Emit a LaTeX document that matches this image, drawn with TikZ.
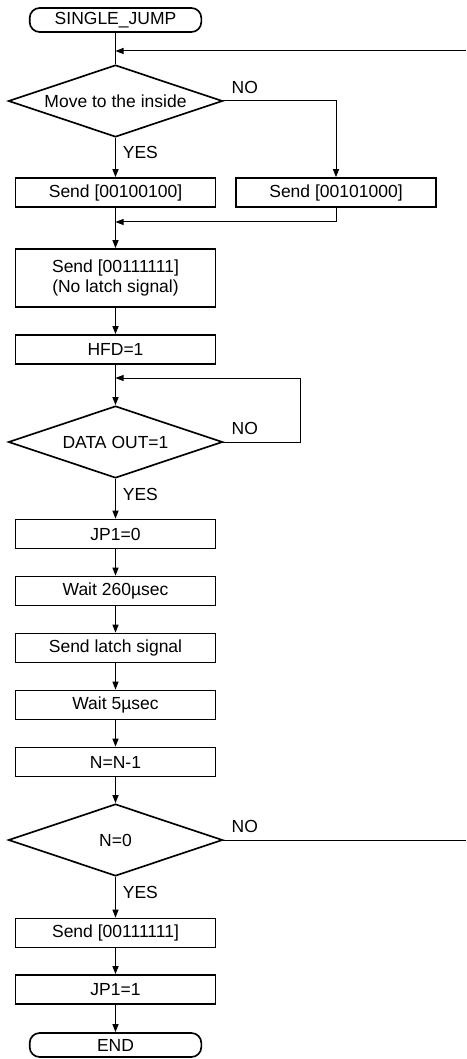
\documentclass[tikz,border=0pt]{standalone}
\usepackage{fontspec}
\setmainfont{Liberation Sans}
\usetikzlibrary{shapes.geometric}
\usetikzlibrary{positioning}
\usetikzlibrary{arrows.meta}

\begin{document}
\begin{tikzpicture}[x=0.6pt,y=-0.6pt,every path/.style={>={Triangle[length=4.8pt,width=3.6pt]}},
	font=\fontsize{10.5}{12}\selectfont,
	box/.style={rectangle,draw,line width=1pt,minimum width=120pt,minimum height=17.4pt,inner sep=0pt,align=center},
	term/.style={rectangle,rounded corners=6pt,draw,line width=1pt,minimum width=103pt,minimum height=14.4pt,inner sep=0pt},
	cond/.style={diamond,draw,line width=1pt,aspect=2.97,minimum width=128.4pt,minimum height=43.2pt,inner sep=0pt},
	lbl/.style={inner sep=0pt},
	line/.style={draw=black,line width=0.6pt}]
		\useasboundingbox (0,0) rectangle (466,1059);
		
		% start and first test
		\node[term] (start) at (115.5,20) {SINGLE\_JUMP};
		\node[cond] (move) at (115.5,101) {Move to the inside};
		\node[box] (inward) at (115.5,192.5) {Send [00100100]};
		\node[box] (outward) at (336,192.5) {Send [00101000]};
		\node[box,minimum height=34.8pt] (nolatch) at (115.5,278) {Send [00111111]\\(No latch signal)};
		\node[box] (hfd) at (115.5,349.5) {HFD=1};
		
		% wait for data out
		\node[cond] (data) at (115.5,442) {DATA OUT=1};
		
		% draw steps
		\foreach \t [count=\i] in {JP1=0,Wait 260µsec,Send latch signal,Wait 5µsec,N=N-1}
		{
			\node[box] (step-\i) at (115.5,477+57*\i) {\t};
		}
		
		% last test and stop
		\node[cond] (zero) at (115.5,840) {N=0};
		\node[box] (final) at (115.5,933) {Send [00111111]};
		\node[box] (jpone) at (115.5,989.5) {JP1=1};
		\node[term] (stop) at (115.5,1045) {END};
		
		% labels
		\node[lbl,above right=4.2pt and 4.8pt of move.east] (no1) {NO};
		\node[lbl,below right=4.8pt and 4.2pt of move.south] (yes1) {YES};
		\node[lbl,above right=4.2pt and 4.8pt of data.east] (no2) {NO};
		\node[lbl,below right=5.4pt and 4.2pt of data.south] (yes2) {YES};
		\node[lbl,above right=4.2pt and 4.8pt of zero.east] (no3) {NO};
		\node[lbl,below right=5.4pt and 4.2pt of zero.south] (yes3) {YES};
		
		% points on the lines
		\coordinate (ret) at (466,51);
		\coordinate (j1) at (115.5,51);
		\coordinate (j2) at (115.5,222);
		\coordinate (j3) at (115.5,378);
		\coordinate (back) at (300,442);
		\coordinate (away) at (466,840);
		
		% draw connectors
		\draw[line] (start) -- (move);
		\draw[line,->] (ret) -- (j1);
		\draw[line,->] (move) -- (inward);
		\draw[line,->] (move.east) -| (outward);
		\draw[line,->] (inward) -- (nolatch);
		\draw[line,->] (outward.south) |- (j2);
		\draw[line,->] (nolatch) -- (hfd);
		\draw[line,->] (hfd) -- (data);
		\draw[line,->] (data.east) -- (back) |- (j3);
		\path (data) edge[line,->] (step-1)
			(step-1) edge[line,->] (step-2)
			(step-2) edge[line,->] (step-3)
			(step-3) edge[line,->] (step-4)
			(step-4) edge[line,->] (step-5)
			(step-5) edge[line,->] (zero);
		\draw[line] (zero.east) -- (away);
		\draw[line,->] (zero) -- (final);
		\draw[line,->] (final) -- (jpone);
		\draw[line,->] (jpone) -- (stop);
\end{tikzpicture}
\end{document}
